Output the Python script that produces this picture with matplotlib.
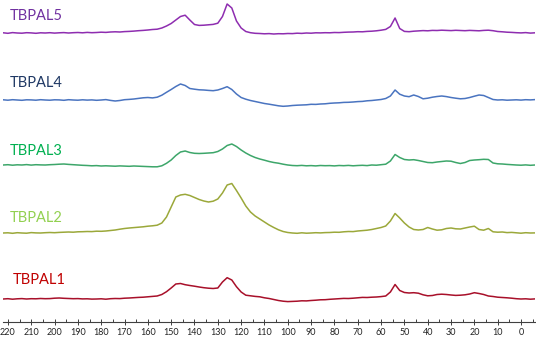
import matplotlib
matplotlib.use("Agg")
import matplotlib.pyplot as plt
from matplotlib.ticker import MultipleLocator
import numpy as np

# chemical shift grid (ppm), shared by all spectra
ppm = [222, 220, 218, 216, 214, 212, 210, 208, 206, 204,
       202, 200, 198, 196, 194, 192, 190, 188, 186, 184,
       182, 180, 178, 176, 174, 172, 170, 168, 166, 164,
       162, 160, 158, 156, 154, 152, 150, 148, 146, 144,
       142, 140, 138, 136, 134, 132, 130, 128, 126, 124,
       122, 120, 118, 116, 114, 112, 110, 108, 106, 104,
       102, 100, 98, 96, 94, 92, 90, 88, 86, 84,
       82, 80, 78, 76, 74, 72, 70, 68, 66, 64,
       62, 60, 58, 56, 54, 52, 50, 48, 46, 44,
       42, 40, 38, 36, 34, 32, 30, 28, 26, 24,
       22, 20, 18, 16, 14, 12, 10, 8, 6, 4,
       2, 0, -2, -4, -6]

tbpal5 = [0.2, -0.3, 0.4, 0, -0.2, 0.3, 0.1, -0.3, 0.2, 0,
          0.3, -0.1, 0.2, 0.4, 0, 0.3, 0.5, 0.2, 0.6, 0.3,
          0.5, 0.8, 0.6, 1.0, 1.2, 1.0, 1.4, 1.6, 1.9, 2.3,
          2.6, 3.0, 3.5, 3.8, 5.0, 7.0, 9.5, 13, 16.5, 17.8,
          13, 8.5, 7.6, 7.8, 8.2, 8.6, 9.8, 16.5, 29, 25,
          12, 5, 1.5, 0.3, -0.3, -0.5, -0.8, -0.6, -1, -0.7,
          -0.8, -0.5, -0.6, -0.2, -0.4, 0, -0.2, 0.2, 0.1, 0.3,
          0.2, 0.5, 0.4, 0.7, 0.9, 1.0, 1.3, 1.2, 1.6, 1.8,
          2.2, 2.8, 3.6, 6.5, 15, 4.5, 1.6, 1.3, 1.8, 2.1,
          2.4, 2.2, 2.6, 2.5, 2.8, 2.6, 2.4, 2.7, 2.5, 2.3,
          2.6, 2.4, 2.2, 2.6, 2.8, 2.3, 1.5, 1.2, 0.8, 0.6,
          0.3, 0.1, 0.4, -0.1, 0.2]

tbpal4 = [0.2, -0.2, 0.3, 0, -0.3, 0.2, 0.1, -0.2, 0.3, 0,
          -0.2, 0.2, 0.1, -0.3, 0.3, 0, -0.2, 0.2, -0.1, 0.1,
          -0.3, 0, 0.4, -0.4, -1.0, -0.5, 0.3, 0.6, 1.0, 1.6,
          2.2, 2.5, 2.1, 2.8, 4.8, 7.7, 10.5, 13.5, 16, 14.5,
          11.5, 10.8, 10.2, 10, 9.6, 9.3, 10, 11.5, 13.3, 10.5,
          6, 2.5, 0.8, -0.5, -1.5, -2.5, -3.5, -4.2, -5, -5.8,
          -6.3, -6, -5.5, -5.2, -5, -4.8, -4.3, -4.4, -4, -3.8,
          -3.3, -3.0, -2.8, -2.4, -2.3, -2.0, -1.6, -1.4, -0.8, -0.5,
          0, 0.5, 1.5, 4, 10, 5.8, 4, 3.3, 5, 3.5,
          1.2, 1.8, 2.8, 3.5, 4, 3.4, 2.5, 1.8, 1.2, 1.5,
          2.5, 3.8, 5, 4.5, 2.5, 0.5, 0, 0.2, -0.2, 0,
          0.2, -0.1, 0.3, 0.1, 0.4]

tbpal3 = [0, 0.3, -0.2, 0.2, 0, 0.4, -0.1, 0.3, 0.1, 0,
          0.3, 0.5, 0.8, 1.0, 0.6, 0.3, 0, -0.3, -0.5, -0.8,
          -0.6, -1.0, -0.8, -1.0, -1.2, -0.9, -1.1, -1.3, -1.0, -1.2,
          -1.4, -1.6, -1.8, -1.8, -0.8, 1.7, 5, 9.5, 13, 14,
          12.5, 11.7, 11.5, 11.7, 12, 12.3, 13.5, 16, 19.5, 21,
          18.5, 15, 12, 9.5, 7.5, 6, 4.8, 3.5, 2.5, 1.8,
          0.8, 0, -0.5, -0.7, -0.4, -0.8, -0.6, -0.9, -0.5, -0.7,
          -0.6, -0.9, -0.5, -0.7, -0.4, -0.8, -0.5, -0.3, -0.6, 0,
          -0.2, 0.3, 0.8, 4, 10.5, 7.5, 5.5, 5, 5.3, 4.5,
          3.5, 2.5, 2.3, 3, 3.5, 4, 3.8, 2.5, 1.5, 2.5,
          4.5, 5, 5.3, 5.7, 5.5, 2, 1.2, 1, 0.6, 0.3,
          0, -0.2, 0.1, -0.3, 0]

tbpal2 = [0, 0.2, -0.3, 0.3, 0, -0.2, 0.4, 0.1, 0, 0.3,
          0.5, 0.3, 0.6, 0.8, 1.0, 0.8, 1.2, 1.3, 1.5, 1.4,
          1.8, 1.7, 2.0, 2.5, 3.0, 3.8, 4.5, 5.0, 5.4, 5.8,
          6.2, 6.8, 7.2, 7.8, 10, 16, 26, 36, 38, 38.7,
          37.5, 35.5, 33.5, 32, 31, 31.8, 34, 40, 48, 49.5,
          42.5, 35, 27, 21, 17, 14, 11, 8, 5.5, 3.2,
          1.5, 0.5, 0, -0.3, 0.2, -0.2, 0, 0.3, 0.1, 0.4,
          0.5, 0.8, 0.7, 1.2, 1.5, 1.4, 2.0, 2.4, 2.8, 3.5,
          4.5, 5.5, 7, 12, 19.5, 15, 10, 6, 3.5, 3,
          3.5, 5.5, 4, 2.8, 3.2, 4.5, 5, 4.2, 4, 5,
          6, 6.8, 3.5, 2.8, 4.5, 1.2, 0.8, 1.0, 0.4, 0.6,
          0.2, -0.2, 0.3, 0, 0.1]

tbpal1 = [0, 0.3, -0.2, 0.2, 0.4, 0, 0.3, 0.2, 0.5, 0.3,
          0.4, 0.8, 1.0, 0.7, 0.5, 0.3, 0.4, 0.1, 0.2, -0.1,
          0, 0.2, -0.2, 0.3, 0.5, 0.4, 0.8, 1.0, 1.3, 1.6,
          1.8, 2.2, 2.6, 3.0, 4.5, 7.3, 11, 15, 15.5, 14.3,
          13.5, 12.8, 12, 11.3, 10.8, 10.5, 11, 17, 21.3, 19,
          12.3, 7, 3.8, 3.2, 2.6, 2.2, 1.2, 0.5, -0.5, -1.5,
          -2.2, -2.6, -2.4, -2.2, -1.8, -1.9, -1.5, -1.2, -0.8, -0.7,
          -0.3, 0, 0.3, 0.6, 0.5, 0.8, 1.2, 1.6, 1.5, 1.8,
          2.0, 2.4, 3.0, 7, 14.5, 8.5, 6.5, 6, 6.3, 5.8,
          4.2, 3.2, 3.5, 4.5, 4.8, 4.5, 4.0, 3.6, 3.8, 4.2,
          5, 6.3, 5.5, 4.5, 3, 2.5, 1.8, 1.5, 1.2, 0.8,
          0.3, 0, 0.2, -0.2, 0.1]

names = ["TBPAL5", "TBPAL4", "TBPAL3", "TBPAL2", "TBPAL1"]
spectra = [tbpal5, tbpal4, tbpal3, tbpal2, tbpal1]

# stacking offsets, label positions and colours
offsets = [289, 222, 157, 89, 23]
label_y = [306, 239, 171, 104, 42]
label_x = [219.1, 219.1, 219.1, 219.1, 217.9]
line_colors = ["#8E2DB0", "#4A74C0", "#3DA66A", "#9BA83A", "#A8102A"]
text_colors = ["#7030A0", "#1F3864", "#00B050", "#92D050", "#C00000"]

plt.rcParams['font.family'] = ['Lato', 'DejaVu Sans']

fig = plt.figure(figsize=(5.36, 3.37), dpi=100)
ax = fig.add_axes([3 / 536, 15 / 337, 532 / 536, 322 / 337])

x = np.array(ppm)
for name, vals, off, ly, lx, lc, tc in zip(names, spectra, offsets, label_y,
                                           label_x, line_colors, text_colors):
    ax.plot(x, np.array(vals) + off, color=lc, lw=1.1)
    ax.text(lx, ly, name, color=tc, fontsize=10.5, ha='left', va='center')

ax.set_xlim(222.1, -6.0)
ax.set_ylim(0, 322)

for s in ['left', 'right', 'top']:
    ax.spines[s].set_visible(False)
ax.spines['bottom'].set_color('#404040')
ax.spines['bottom'].set_linewidth(0.8)

ax.xaxis.set_major_locator(MultipleLocator(10))
ax.xaxis.set_minor_locator(MultipleLocator(5))
ax.tick_params(axis='x', which='major', direction='inout', length=4,
               width=0.7, color='#404040', labelsize=6.5, pad=2.5,
               labelcolor='#222222')
ax.tick_params(axis='x', which='minor', direction='in', length=2,
               width=0.7, color='#404040')
ax.set_yticks([])

fig.savefig("out.png", dpi=100)
